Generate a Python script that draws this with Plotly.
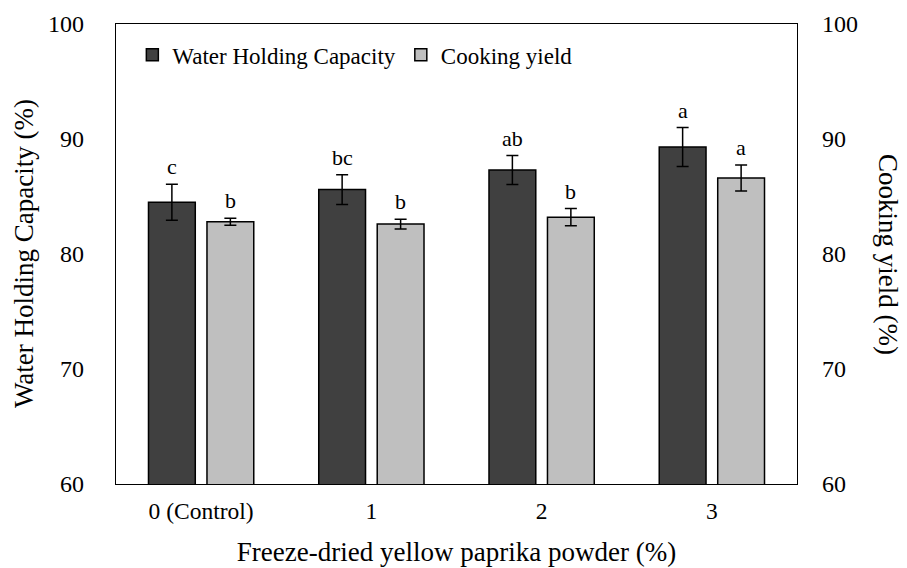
import plotly.graph_objects as go

categories = ["0 (Control)", "1", "2", "3"]
whc_values = [84.5, 85.6, 87.3, 89.3]
whc_errors = [1.57, 1.3, 1.26, 1.7]
cy_values = [82.8, 82.6, 83.2, 86.6]
cy_errors = [0.3, 0.43, 0.75, 1.13]
whc_letters = ["c", "bc", "ab", "a"]
cy_letters = ["b", "b", "b", "a"]
y_ticks = [60, 70, 80, 90, 100]

FONT = "Liberation Serif"
DARK = "#404040"
LIGHT = "#bfbfbf"

fig = go.Figure()
fig.add_trace(go.Bar(
    x=categories, y=whc_values, name="Water Holding Capacity",
    marker=dict(color=DARK, line=dict(color="black", width=1.5)),
    error_y=dict(type="data", array=whc_errors, color="black", thickness=1.5, width=6),
    offsetgroup=1, yaxis="y",
))
fig.add_trace(go.Bar(
    x=categories, y=cy_values, name="Cooking yield",
    marker=dict(color=LIGHT, line=dict(color="black", width=1.5)),
    error_y=dict(type="data", array=cy_errors, color="black", thickness=1.5, width=6),
    offsetgroup=2, yaxis="y2",
))

annotations = []
for c, v, e, t in zip(categories, whc_values, whc_errors, whc_letters):
    annotations.append(dict(x=c, y=v + e, xref="x", yref="y", text=t, showarrow=False,
                            xshift=-29, yshift=3, yanchor="bottom",
                            font=dict(family=FONT, size=22, color="black")))
for c, v, e, t in zip(categories, cy_values, cy_errors, cy_letters):
    annotations.append(dict(x=c, y=v + e, xref="x", yref="y2", text=t, showarrow=False,
                            xshift=29, yshift=3, yanchor="bottom",
                            font=dict(family=FONT, size=22, color="black")))
annotations.append(dict(x=0, xref="paper", xshift=-92, xanchor="center", y=0.5, yref="paper",
                        text="Water Holding Capacity (%)", textangle=-90, showarrow=False,
                        font=dict(family=FONT, size=27, color="black")))
annotations.append(dict(x=1, xref="paper", xshift=91, xanchor="center", y=0.5, yref="paper",
                        text="Cooking yield (%)", textangle=90, showarrow=False,
                        font=dict(family=FONT, size=27, color="black")))

fig.update_layout(
    width=899, height=560,
    margin=dict(l=108, r=110, t=16, b=84, autoexpand=False),
    paper_bgcolor="white", plot_bgcolor="white",
    barmode="group", bargap=0.313, bargroupgap=0.2,
    font=dict(family=FONT, size=22, color="black"),
    showlegend=True,
    legend=dict(orientation="h", x=0.024, y=0.933, xanchor="left", yanchor="middle",
                font=dict(family=FONT, size=23, color="black"),
                bgcolor="rgba(0,0,0,0)", itemclick=False),
    xaxis=dict(showline=True, linecolor="black", linewidth=1.3, mirror=True,
               showgrid=False, ticks="", ticklabelstandoff=6, automargin=False,
               tickfont=dict(family=FONT, size=23.5),
               title=dict(text="Freeze-dried yellow paprika powder (%)",
                          font=dict(family=FONT, size=27), standoff=18)),
    yaxis=dict(range=[60, 100], tickvals=y_ticks, showline=True, linecolor="black",
               linewidth=1.3, showgrid=False, ticks="", zeroline=False, automargin=False,
               ticklabelstandoff=26, tickfont=dict(family=FONT, size=24)),
    yaxis2=dict(range=[60, 100], tickvals=y_ticks, overlaying="y", side="right",
                showline=True, linecolor="black", linewidth=1.3, showgrid=False,
                ticks="", zeroline=False, automargin=False,
                ticklabelstandoff=19, tickfont=dict(family=FONT, size=24)),
    annotations=annotations,
)

fig.write_html("out.html")
